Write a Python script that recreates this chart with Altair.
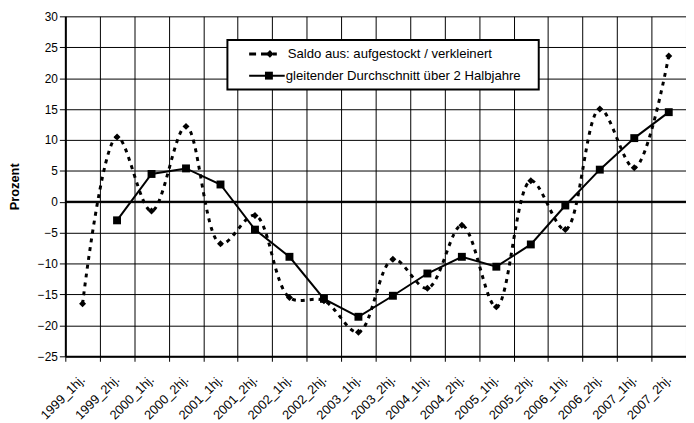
import altair as alt
import pandas as pd

cats = ["1999_1hj.", "1999_2hj.", "2000_1hj.", "2000_2hj.", "2001_1hj.", "2001_2hj.",
        "2002_1hj.", "2002_2hj.", "2003_1hj.", "2003_2hj.", "2004_1hj.", "2004_2hj.",
        "2005_1hj.", "2005_2hj.", "2006_1hj.", "2006_2hj.", "2007_1hj.", "2007_2hj."]
saldo = [-16.5, 10.5, -1.5, 12.2, -6.8, -2.2, -15.5, -16.0, -21.1, -9.3, -14.0, -3.8,
         -17.0, 3.4, -4.5, 15.0, 5.5, 23.6]
avg = [None, -3.0, 4.5, 5.4, 2.8, -4.5, -8.9, -15.7, -18.6, -15.2, -11.6, -8.9,
       -10.5, -6.9, -0.6, 5.2, 10.3, 14.5]
y_ticks = [-25, -20, -15, -10, -5, 0, 5, 10, 15, 20, 25, 30]
legend_labels = ["Saldo aus: aufgestockt / verkleinert",
                 "gleitender Durchschnitt über 2 Halbjahre"]

df = pd.DataFrame({"cat": cats, "saldo": saldo, "avg": avg})
one = pd.DataFrame({"k": [0]})

FONT = "Liberation Sans"

x_axis = alt.Axis(
    title=None, labelAngle=-45, labelAlign="right", labelBaseline="middle",
    labelPadding=16, labelFontSize=13, labelFont=FONT, labelColor="black",
    labelOverlap=False, labelFlush=False, tickBand="extent", grid=True,
    gridColor="black", gridWidth=1, domainColor="black", domainWidth=2,
    tickColor="black", tickSize=5, tickWidth=1)
y_axis = alt.Axis(
    values=y_ticks, grid=True, gridColor="black", gridWidth=1,
    labelOverlap=False, labelFlush=False,
    domainColor="black", domainWidth=2, tickColor="black", tickSize=6,
    tickWidth=1, labelFontSize=12, labelFont=FONT, labelColor="black",
    labelPadding=2, title="Prozent", titleFont=FONT, titleFontSize=13,
    titleFontWeight="bold", titleColor="black", titleAngle=270,
    titleX=-51, titleY=172, titleAlign="center", titleBaseline="middle")

x_enc = alt.X("cat:N", sort=cats, bandPosition=0.5,
              scale=alt.Scale(type="band", paddingInner=0, paddingOuter=0),
              axis=x_axis)
y_scale = alt.Scale(domain=[-25, 30], nice=False, zero=False)

base = alt.Chart(df)

saldo_line = base.mark_line(interpolate="catmull-rom", strokeDash=[4, 5],
                            strokeWidth=3, color="black").encode(
    x=x_enc, y=alt.Y("saldo:Q", scale=y_scale, axis=y_axis, title="Prozent"))
saldo_pts = base.mark_point(shape="diamond", filled=True, size=50,
                            color="black", opacity=1).encode(
    x=x_enc, y=alt.Y("saldo:Q", scale=y_scale, axis=y_axis, title="Prozent"))
avg_line = base.transform_filter("isValid(datum.avg)").mark_line(
    strokeWidth=2, color="black").encode(
    x=x_enc, y=alt.Y("avg:Q", scale=y_scale, axis=y_axis, title="Prozent"))
avg_pts = base.transform_filter("isValid(datum.avg)").mark_point(
    shape="square", filled=True, size=64, color="black", opacity=1).encode(
    x=x_enc, y=alt.Y("avg:Q", scale=y_scale, axis=y_axis, title="Prozent"))

zero_rule = alt.Chart(one).mark_rule(color="black", strokeWidth=2).encode(
    y=alt.datum(0, scale=y_scale, axis=y_axis, title="Prozent"))

lg = alt.Chart(one)
leg_box = lg.mark_rect(fill="white", stroke="black", strokeWidth=2).encode(
    x=alt.value(164), x2=alt.value(479), y=alt.value(24), y2=alt.value(74))
leg_l1 = lg.mark_rule(color="black", strokeWidth=3, strokeDash=[7, 5]).encode(
    x=alt.value(186), x2=alt.value(214), y=alt.value(38))
leg_p1 = lg.mark_point(shape="diamond", filled=True, size=60, color="black",
                       opacity=1).encode(x=alt.value(207), y=alt.value(38))
leg_t1 = lg.mark_text(text=legend_labels[0], align="left", baseline="middle",
                      font=FONT, fontSize=13.3, color="black").encode(
    x=alt.value(225), y=alt.value(38))
leg_l2 = lg.mark_rule(color="black", strokeWidth=2).encode(
    x=alt.value(186), x2=alt.value(222), y=alt.value(60))
leg_p2 = lg.mark_point(shape="square", filled=True, size=64, color="black",
                       opacity=1).encode(x=alt.value(206), y=alt.value(60))
leg_t2 = lg.mark_text(text=legend_labels[1], align="left", baseline="middle",
                      font=FONT, fontSize=13.3, color="black").encode(
    x=alt.value(223), y=alt.value(60))

chart = alt.layer(
    saldo_line, zero_rule, avg_line, saldo_pts, avg_pts,
    leg_box, leg_l1, leg_p1, leg_t1, leg_l2, leg_p2, leg_t2
).properties(
    width=628, height=344,
    autosize=alt.AutoSizeParams(type="none"),
    padding={"left": 58, "top": 6, "right": 0, "bottom": 64},
    background="white",
).configure_view(strokeWidth=0).configure_axis(labelOverlap=False)

chart.save("out.html", embed_options={"renderer": "svg", "actions": False})
